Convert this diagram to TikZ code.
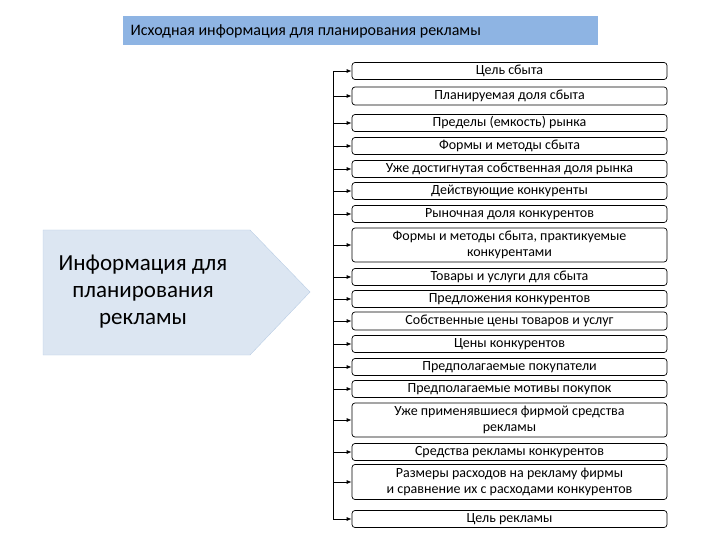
\documentclass[tikz,border=0pt]{standalone}
\usepackage{fontspec}
\setmainfont{Carlito}
\usetikzlibrary{arrows.meta}
\definecolor{titleblue}{HTML}{8EB4E3}
\definecolor{pentfill}{HTML}{DCE6F2}
\definecolor{pentline}{HTML}{B9CDE5}
\begin{document}
\begin{tikzpicture}[x=1pt,y=-1pt,
  itembox/.style={draw,rounded corners=3pt,minimum width=315pt,align=center,font=\fontsize{14}{16}\selectfont,inner sep=0.5pt,line width=0.7pt},
  feed/.style={-{Latex[length=5pt,width=4pt]},line width=0.8pt}]
\useasboundingbox (0,0) rectangle (720,540);
\node[fill=titleblue,minimum width=475pt,minimum height=29pt,inner sep=0pt,anchor=north west] (title) at (123,16) {};
\node[anchor=west,font=\fontsize{16}{18}\selectfont] (titletext) at (127,31) {Исходная информация для планирования рекламы};
\draw[fill=pentfill,draw=pentline] (43,230) -- (250,230) -- (310,292) -- (250,355) -- (43,355) -- cycle;
\node[align=center,font=\fontsize{23}{27}\selectfont] (big) at (143,292) {Информация для\\планирования\\рекламы};
\coordinate (top) at (333,72);
\coordinate (bot) at (333,520);
\draw[line width=0.8pt] (top) -- (bot);
\foreach \i/\y/\h/\t in {
 1/71/17/{Цель сбыта},
 2/96/18/{Планируемая доля сбыта},
 3/123/17/{Пределы (емкость) рынка},
 4/146/17/{Формы и методы сбыта},
 5/169/17/{Уже достигнутая собственная доля рынка},
 6/191/17/{Действующие конкуренты},
 7/214/17/{Рыночная доля конкурентов},
 8/245/34/{Формы и методы сбыта, практикуемые\\конкурентами},
 9/277/17/{Товары и услуги для сбыта},
 10/299/17/{Предложения конкурентов},
 11/321/18/{Собственные цены товаров и услуг},
 12/344/17/{Цены конкурентов},
 13/367/17/{Предполагаемые покупатели},
 14/389/17/{Предполагаемые мотивы покупок},
 15/420/34/{Уже применявшиеся фирмой средства\\рекламы},
 16/452/17/{Средства рекламы конкурентов},
 17/482/35/{Размеры расходов на рекламу фирмы\\и сравнение их с расходами конкурентов},
 18/519/17/{Цель рекламы}} {
  \node[itembox,minimum height=\h pt] (b\i) at (509.5,\y) {\t};
  \coordinate (s\i) at (333,\y);
  \draw[feed] (s\i) -- (b\i.west);
}
\end{tikzpicture}
\end{document}
